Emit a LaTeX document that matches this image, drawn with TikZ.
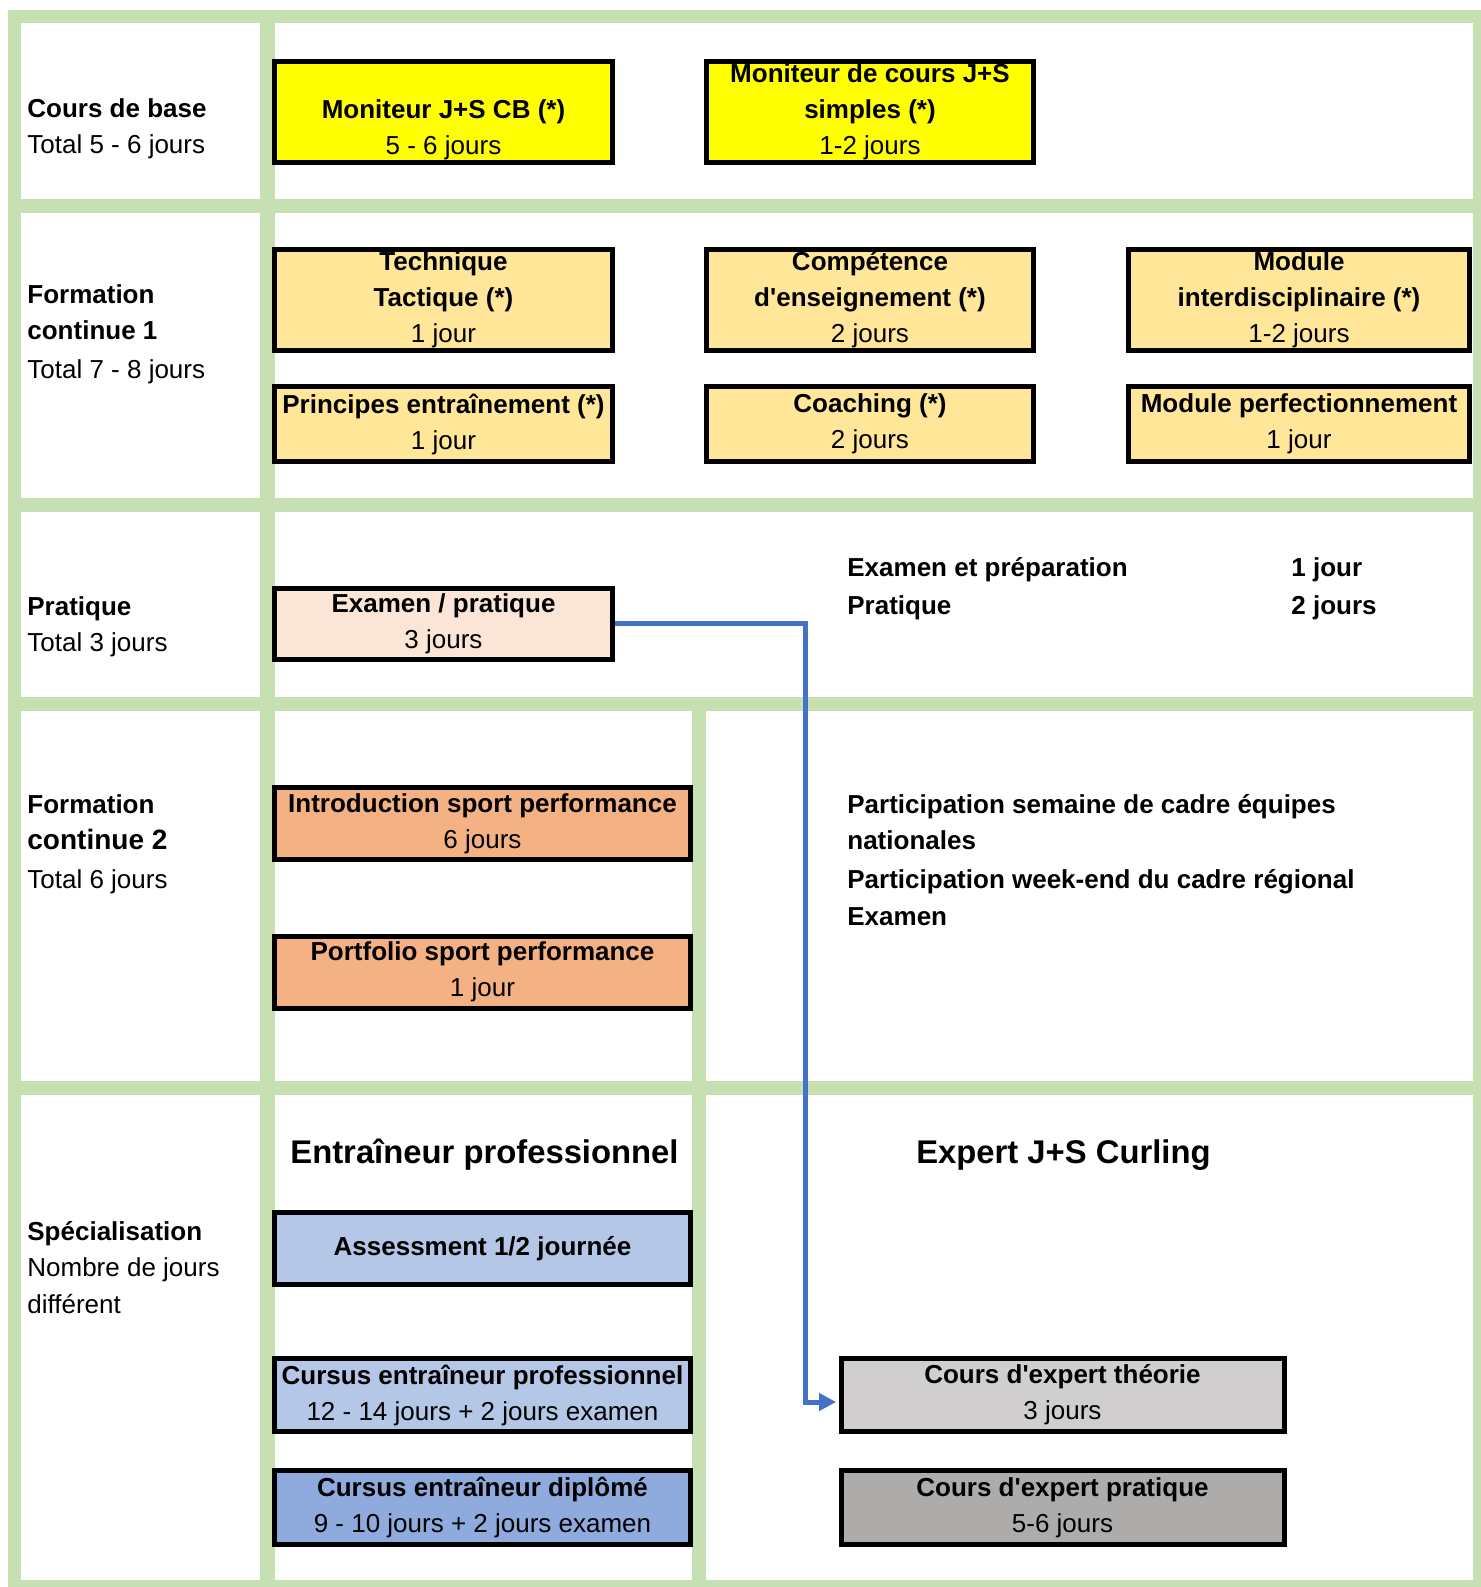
\documentclass[tikz,border=0pt]{standalone}
\usepackage{fontspec}
\setmainfont{Liberation Sans}
\usetikzlibrary{arrows.meta}

\definecolor{grille}{HTML}{C6E0B4}
\definecolor{jaune}{HTML}{FFFF00}
\definecolor{ocre}{HTML}{FFE699}
\definecolor{rose}{HTML}{FBE5D6}
\definecolor{orange}{HTML}{F4B183}
\definecolor{bleuclair}{HTML}{B4C7E7}
\definecolor{bleu}{HTML}{8FAADC}
\definecolor{grisclair}{HTML}{D0CECE}
\definecolor{gris}{HTML}{AEABAB}
\definecolor{fleche}{HTML}{4472C4}

\begin{document}
\begin{tikzpicture}[x=0.5pt, y=-0.5pt,
    box/.style={draw, line width=2.5pt, inner sep=0pt, align=center, font=\fontsize{13}{18}\selectfont},
    lbl/.style={anchor=base west, inner sep=0pt, font=\fontsize{13}{18}\selectfont},
    lblb/.style={lbl, font=\bfseries\fontsize{13}{18}\selectfont},
    titre/.style={anchor=base, inner sep=0pt, font=\bfseries\fontsize{16.4}{20}\selectfont},
    flow/.style={draw=fleche, line width=2.5pt, -{Triangle[length=8.5pt, width=8.5pt]}}]
    \useasboundingbox (0,0) rectangle (1481,1587);

    % grille
    \fill [grille] (8,10) rectangle (1481,1587);
    \fill [white] (21,23) rectangle (260,199);
    \fill [white] (275,23) rectangle (1473,199);
    \fill [white] (21,213) rectangle (260,498);
    \fill [white] (275,213) rectangle (1473,498);
    \fill [white] (21,512) rectangle (260,697);
    \fill [white] (275,512) rectangle (1473,697);
    \fill [white] (21,711) rectangle (260,1081);
    \fill [white] (275,711) rectangle (692,1081);
    \fill [white] (706,711) rectangle (1473,1081);
    \fill [white] (21,1095) rectangle (260,1580);
    \fill [white] (275,1095) rectangle (692,1580);
    \fill [white] (706,1095) rectangle (1473,1580);

    % colonne de gauche
    \node [lblb] (base1) at (27,117) {Cours de base};
    \node [lbl] (base2) at (27,153) {Total 5 - 6 jours};
    \node [lblb] (fc1a) at (27,303) {Formation};
    \node [lblb] (fc1b) at (27,339) {continue 1};
    \node [lbl] (fc1c) at (27,378) {Total 7 - 8 jours};
    \node [lblb] (prat1) at (27,615) {Pratique};
    \node [lbl] (prat2) at (27,651) {Total 3 jours};
    \node [lblb] (fc2a) at (27,813) {Formation};
    \node [lblb, font=\bfseries\fontsize{14}{18}\selectfont] (fc2b) at (27,849) {continue 2};
    \node [lbl] (fc2c) at (27,888) {Total 6 jours};
    \node [lblb] (spec1) at (27,1240) {Spécialisation};
    \node [lbl] (spec2) at (27,1276) {Nombre de jours};
    \node [lbl] (spec3) at (27,1313) {différent};

    % cours de base
    \node [box, fill=jaune, minimum width=169pt, minimum height=50.5pt] (cb) at (443.5,112) {\vphantom{M}\\\textbf{Moniteur J+S CB (*)}\\5 - 6 jours};
    \node [box, fill=jaune, minimum width=163.5pt, minimum height=50.5pt] (cs) at (870,112) {\textbf{Moniteur de cours J+S}\\\textbf{simples (*)}\\1-2 jours};

    % formation continue 1
    \node [box, fill=ocre, minimum width=169pt, minimum height=50.5pt] (tech) at (443.5,300) {\textbf{Technique}\\\textbf{Tactique (*)}\\1 jour};
    \node [box, fill=ocre, minimum width=163.5pt, minimum height=50.5pt] (comp) at (870,300) {\textbf{Compétence}\\\textbf{d\textquotesingle enseignement (*)}\\2 jours};
    \node [box, fill=ocre, minimum width=170.5pt, minimum height=50.5pt] (inter) at (1299,300) {\textbf{Module}\\\textbf{interdisciplinaire (*)}\\1-2 jours};
    \node [box, fill=ocre, minimum width=169pt, minimum height=37.5pt] (princ) at (443.5,424) {\textbf{Principes entraînement (*)}\\1 jour};
    \node [box, fill=ocre, minimum width=163.5pt, minimum height=37.5pt] (coach) at (870,424) {\textbf{Coaching (*)}\\2 jours};
    \node [box, fill=ocre, minimum width=170.5pt, minimum height=37.5pt] (perf) at (1299,423.5) {\textbf{Module perfectionnement}\\1 jour};

    % pratique
    \node [box, fill=rose, minimum width=169pt, minimum height=35.5pt] (exam) at (443.5,623.5) {\textbf{Examen / pratique}\\3 jours};
    \node [lblb] (ep1) at (847,576) {Examen et préparation};
    \node [lblb] (ep2) at (1291,576) {1 jour};
    \node [lblb] (pr1) at (847,614) {Pratique};
    \node [lblb] (pr2) at (1291,614) {2 jours};

    % formation continue 2
    \node [box, fill=orange, minimum width=208pt, minimum height=36pt] (intro) at (482.5,823.5) {\textbf{Introduction sport performance}\\6 jours};
    \node [box, fill=orange, minimum width=208pt, minimum height=36pt] (port) at (482.5,972) {\textbf{Portfolio sport performance}\\1 jour};
    \node [lblb] (part1) at (847,813) {Participation semaine de cadre équipes};
    \node [lblb] (part2) at (847,849) {nationales};
    \node [lblb] (part3) at (847,888) {Participation week-end du cadre régional};
    \node [lblb] (part4) at (847,925) {Examen};

    % specialisation
    \node [titre] (entr) at (484.5,1163) {Entraîneur professionnel};
    \node [titre] (expert) at (1063.5,1163) {Expert J+S Curling};
    \node [box, fill=bleuclair, minimum width=208pt, minimum height=36pt] (assess) at (482.5,1248.5) {\textbf{Assessment 1/2 journée}};
    \node [box, fill=bleuclair, minimum width=208pt, minimum height=36.5pt] (cpro) at (482.5,1395) {\textbf{Cursus entraîneur professionnel}\\12 - 14 jours + 2 jours examen};
    \node [box, fill=bleu, minimum width=208pt, minimum height=37pt] (cdip) at (482.5,1507.5) {\textbf{Cursus entraîneur diplômé}\\9 - 10 jours + 2 jours examen};
    \node [box, fill=grisclair, minimum width=221.5pt, minimum height=36.5pt] (theo) at (1062.5,1395) {\textbf{Cours d\textquotesingle expert théorie}\\3 jours};
    \node [box, fill=gris, minimum width=221.5pt, minimum height=37pt] (prat) at (1062.5,1507.5) {\textbf{Cours d\textquotesingle expert pratique}\\5-6 jours};

    \draw [flow, shorten >=1.2pt] (exam.east) -- ++(190.5,0) |- ([yshift=-3.5pt]theo.west);
\end{tikzpicture}
\end{document}
